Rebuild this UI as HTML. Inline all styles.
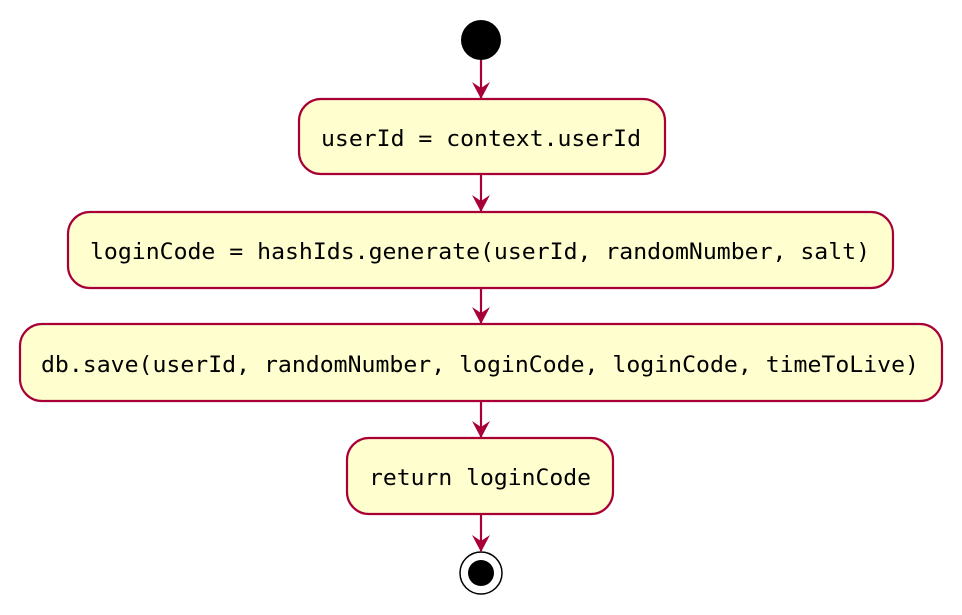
<!DOCTYPE html>
<html><head><meta charset="utf-8"><style>
html,body{margin:0;padding:0;background:#fff;}
svg{display:block}
text{font-family:"DejaVu Sans Mono","Liberation Mono",monospace;font-size:22px;fill:#000}
</style></head><body>
<svg width="962" height="615" viewBox="0 0 962 615" xmlns="http://www.w3.org/2000/svg">
<defs>
<marker id="a" viewBox="0 0 12 12" refX="10" refY="6" markerWidth="12" markerHeight="12" orient="auto" markerUnits="userSpaceOnUse"></marker>
</defs>
<g fill="#FEFECE" stroke="#A80036" stroke-width="2.2">
<rect x="299" y="99" width="366" height="75" rx="22"/>
<rect x="68" y="212" width="825" height="76" rx="22"/>
<rect x="20" y="324" width="922" height="77" rx="22"/>
<rect x="347" y="438" width="266" height="76" rx="22"/>
</g>
<circle cx="481" cy="40" r="20" fill="#000"/>
<circle cx="481" cy="573" r="21" fill="#fff" stroke="#000" stroke-width="1.5"/>
<circle cx="481" cy="573" r="13" fill="#000"/>
<g stroke="#A80036" stroke-width="2.2" fill="none">
<line x1="481" y1="60" x2="481" y2="98"/>
<line x1="481" y1="174" x2="481" y2="211"/>
<line x1="481" y1="288" x2="481" y2="323"/>
<line x1="481" y1="401" x2="481" y2="437"/>
<line x1="481" y1="514" x2="481" y2="551"/>
</g>
<g fill="#A80036">
<path d="M472 82 L481 99 L490 82 L481 88 Z"/>
<path d="M472 195 L481 212 L490 195 L481 201 Z"/>
<path d="M472 307 L481 324 L490 307 L481 313 Z"/>
<path d="M472 421 L481 438 L490 421 L481 427 Z"/>
<path d="M472 535 L481 552 L490 535 L481 541 Z"/>
</g>
<text x="321" y="146" textLength="320" lengthAdjust="spacingAndGlyphs">userId = context.userId</text>
<text x="90" y="259" textLength="780" lengthAdjust="spacingAndGlyphs">loginCode = hashIds.generate(userId, randomNumber, salt)</text>
<text x="41" y="372" textLength="878" lengthAdjust="spacingAndGlyphs">db.save(userId, randomNumber, loginCode, loginCode, timeToLive)</text>
<text x="369" y="485" textLength="222" lengthAdjust="spacingAndGlyphs">return loginCode</text>
</svg>
</body></html>
